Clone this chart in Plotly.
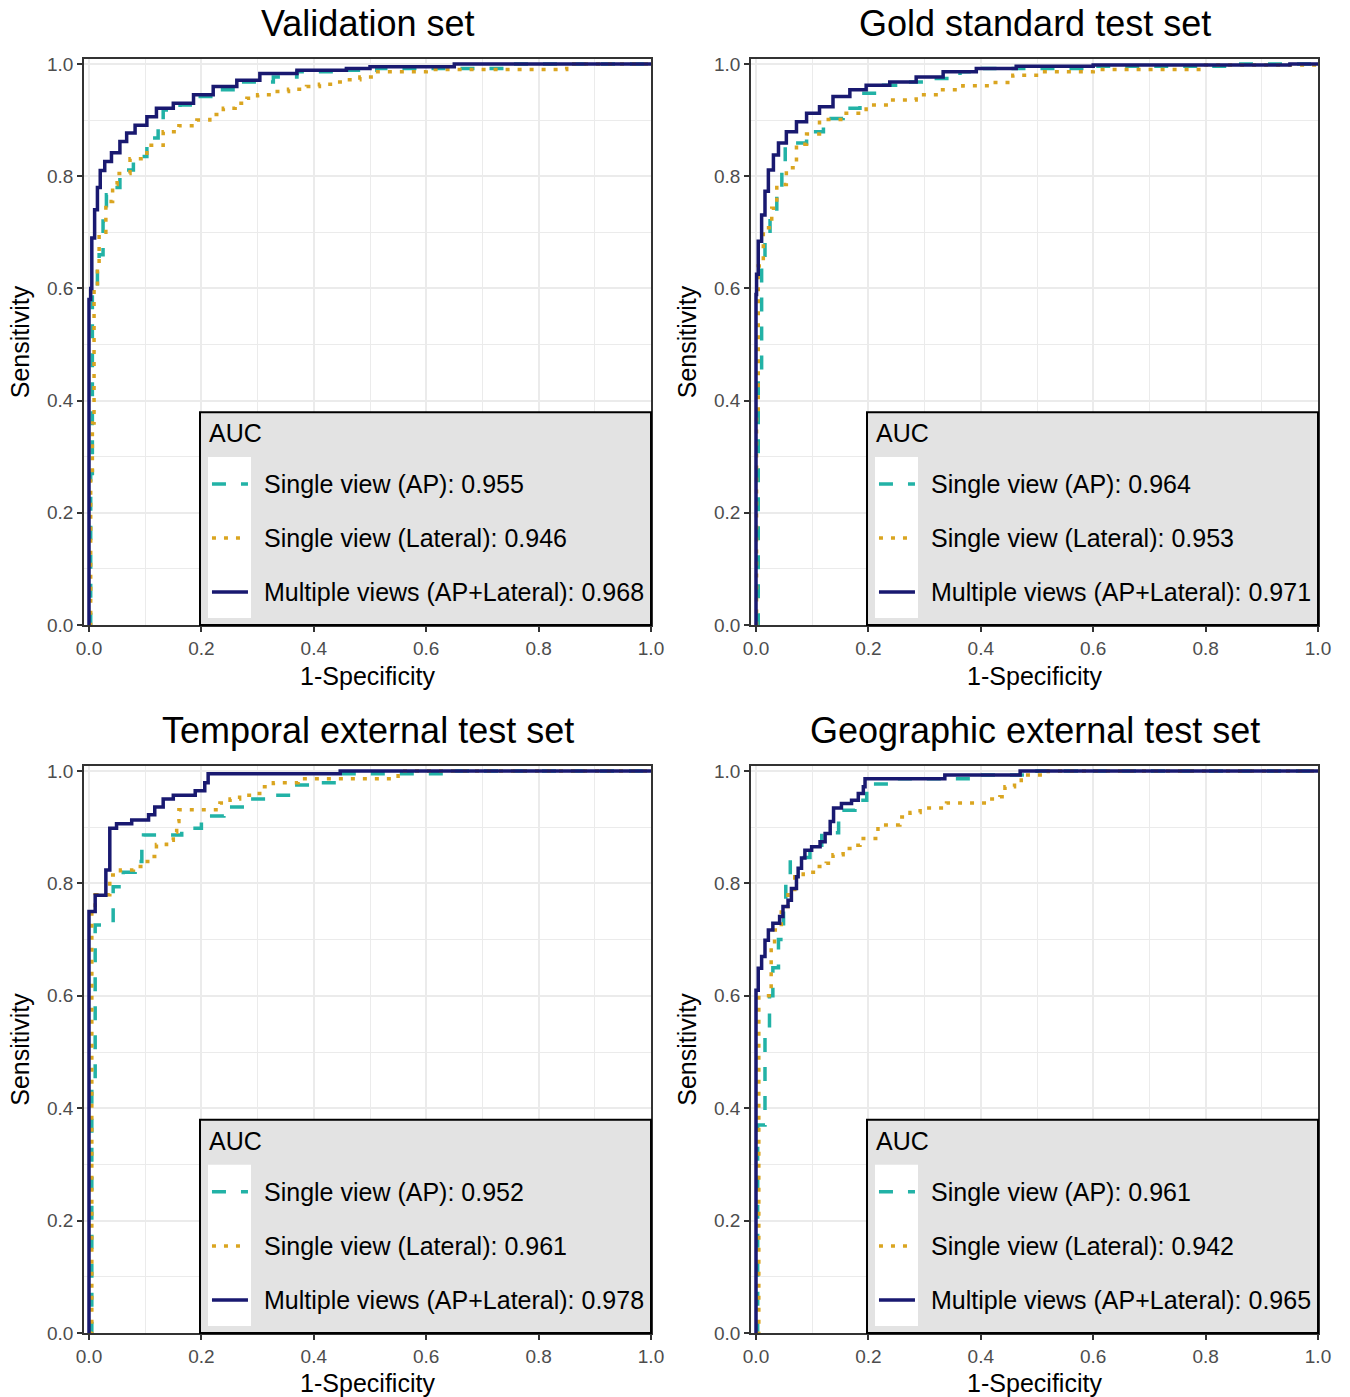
import plotly.graph_objects as go

# ---- ROC curve data (1-specificity, sensitivity) per test set ----
SERIES_NAMES = ["Single view (AP)", "Single view (Lateral)", "Multiple views (AP+Lateral)"]
PANEL_TITLES = ["Validation set", "Gold standard test set",
                "Temporal external test set", "Geographic external test set"]

VAL_AUC = [0.955, 0.946, 0.968]
GOLD_AUC = [0.964, 0.953, 0.971]
TEMP_AUC = [0.952, 0.961, 0.978]
GEO_AUC = [0.961, 0.942, 0.965]

VAL_AP_FPR = [0, 0.003, 0.006, 0.015, 0.018, 0.025, 0.031, 0.04, 0.055, 0.079, 0.103, 0.123, 0.132,
              0.162, 0.191, 0.227, 0.269, 0.328, 0.37, 0.458, 0.512, 0.75, 1.0]
VAL_AP_TPR = [0, 0.27, 0.60, 0.63, 0.66, 0.72, 0.767, 0.78, 0.811, 0.835, 0.868, 0.891, 0.918,
              0.927, 0.942, 0.954, 0.968, 0.977, 0.986, 0.989, 0.992, 1.0, 1.0]
VAL_LAT_FPR = [0, 0.003, 0.006, 0.009, 0.015, 0.018, 0.03, 0.042, 0.05, 0.073, 0.103, 0.132, 0.16,
               0.192, 0.215, 0.239, 0.26, 0.281, 0.30, 0.328, 0.355, 0.387, 0.41, 0.435, 0.46,
               0.482, 0.51, 0.6, 0.85, 1.0]
VAL_LAT_TPR = [0, 0.26, 0.36, 0.60, 0.637, 0.70, 0.755, 0.785, 0.805, 0.831, 0.855, 0.879, 0.89,
               0.90, 0.91, 0.921, 0.93, 0.939, 0.945, 0.951, 0.955, 0.96, 0.964, 0.968, 0.972,
               0.977, 0.986, 0.99, 1.0, 1.0]
VAL_MULTI_FPR = [0, 0, 0.003, 0.005, 0.01, 0.015, 0.02, 0.028, 0.04, 0.055, 0.067, 0.082, 0.103, 0.12,
                 0.15, 0.186, 0.221, 0.263, 0.304, 0.37, 0.458, 0.5, 0.65, 1.0]
VAL_MULTI_TPR = [0, 0.58, 0.60, 0.69, 0.74, 0.78, 0.81, 0.826, 0.842, 0.862, 0.877, 0.891, 0.906, 0.921,
                 0.93, 0.945, 0.96, 0.971, 0.983, 0.989, 0.992, 0.995, 1.0, 1.0]

GOLD_AP_FPR = [0, 0.004, 0.010, 0.016, 0.025, 0.037, 0.046, 0.052, 0.09, 0.12, 0.155, 0.185, 0.227,
               0.268, 0.315, 0.363, 0.404, 0.6, 0.85, 1.0]
GOLD_AP_TPR = [0, 0.45, 0.636, 0.696, 0.725, 0.773, 0.82, 0.859, 0.879, 0.903, 0.921, 0.948, 0.962,
               0.968, 0.974, 0.986, 0.992, 0.996, 1.0, 1.0]
GOLD_LAT_FPR = [0, 0.001, 0.004, 0.013, 0.028, 0.037, 0.054, 0.072, 0.09, 0.113, 0.155, 0.196, 0.238,
                0.285, 0.327, 0.368, 0.416, 0.457, 0.505, 0.6, 0.8, 1.0]
GOLD_LAT_TPR = [0, 0.37, 0.64, 0.708, 0.743, 0.785, 0.815, 0.857, 0.875, 0.901, 0.912, 0.927, 0.936,
                0.945, 0.954, 0.961, 0.967, 0.98, 0.986, 0.99, 0.998, 1.0]
GOLD_MULTI_FPR = [0, 0, 0.001, 0.004, 0.01, 0.016, 0.022, 0.031, 0.04, 0.054, 0.072, 0.09, 0.113, 0.137,
                  0.167, 0.196, 0.238, 0.285, 0.333, 0.392, 0.463, 0.6, 0.95, 1.0]
GOLD_MULTI_TPR = [0, 0.589, 0.625, 0.684, 0.731, 0.773, 0.811, 0.838, 0.859, 0.879, 0.897, 0.912, 0.924,
                  0.942, 0.954, 0.962, 0.968, 0.977, 0.986, 0.992, 0.996, 0.998, 1.0, 1.0]

TEMP_AP_FPR = [0, 0.005, 0.011, 0.043, 0.061, 0.082, 0.094, 0.097, 0.165, 0.2, 0.24, 0.28, 0.322,
               0.36, 0.4, 0.45, 0.63, 1.0]
TEMP_AP_TPR = [0, 0.44, 0.726, 0.794, 0.82, 0.839, 0.877, 0.886, 0.898, 0.92, 0.936, 0.95, 0.957,
               0.975, 0.979, 0.995, 1.0, 1.0]
TEMP_LAT_FPR = [0, 0.005, 0.011, 0.037, 0.056, 0.079, 0.096, 0.112, 0.12, 0.138, 0.15, 0.156, 0.16,
                0.233, 0.251, 0.268, 0.292, 0.307, 0.328, 0.372, 0.55, 1.0]
TEMP_LAT_TPR = [0, 0.75, 0.78, 0.815, 0.824, 0.83, 0.839, 0.848, 0.869, 0.877, 0.891, 0.91, 0.931,
                0.943, 0.95, 0.957, 0.96, 0.972, 0.979, 0.986, 1.0, 1.0]
TEMP_MULTI_FPR = [0, 0, 0.011, 0.030, 0.037, 0.049, 0.076, 0.106, 0.117, 0.132, 0.15, 0.189, 0.206,
                  0.212, 0.447, 1.0]
TEMP_MULTI_TPR = [0, 0.75, 0.779, 0.824, 0.898, 0.906, 0.913, 0.922, 0.936, 0.95, 0.957, 0.965, 0.979,
                  0.995, 1.0, 1.0]

GEO_AP_FPR = [0, 0.003, 0.016, 0.024, 0.03, 0.04, 0.049, 0.053, 0.061, 0.096, 0.117, 0.147, 0.176,
              0.197, 0.25, 0.4, 0.5, 1.0]
GEO_AP_TPR = [0, 0.37, 0.54, 0.60, 0.65, 0.70, 0.76, 0.81, 0.846, 0.868, 0.89, 0.93, 0.948,
              0.977, 0.986, 0.993, 1.0, 1.0]
GEO_LAT_FPR = [0, 0.005, 0.027, 0.033, 0.045, 0.057, 0.069, 0.084, 0.107, 0.125, 0.137, 0.155, 0.167,
               0.185, 0.217, 0.256, 0.274, 0.292, 0.339, 0.41, 0.434, 0.443, 0.46, 0.472, 0.52, 1.0]
GEO_LAT_TPR = [0, 0.60, 0.696, 0.717, 0.759, 0.789, 0.812, 0.82, 0.83, 0.836, 0.851, 0.862, 0.868,
               0.88, 0.904, 0.918, 0.926, 0.934, 0.943, 0.95, 0.954, 0.972, 0.979, 0.993, 1.0, 1.0]
GEO_MULTI_FPR = [0, 0, 0.004, 0.01, 0.016, 0.022, 0.03, 0.042, 0.048, 0.057, 0.063, 0.072, 0.075,
                 0.081, 0.087, 0.099, 0.114, 0.123, 0.132, 0.138, 0.152, 0.17, 0.182, 0.191, 0.194,
                 0.336, 0.47, 1.0]
GEO_MULTI_TPR = [0, 0.61, 0.649, 0.67, 0.699, 0.717, 0.729, 0.741, 0.759, 0.77, 0.791, 0.812, 0.827,
                 0.845, 0.859, 0.865, 0.874, 0.889, 0.91, 0.934, 0.942, 0.948, 0.96, 0.972, 0.986,
                 0.993, 1.0, 1.0]

TICKS = [0.0, 0.2, 0.4, 0.6, 0.8, 1.0]
TICK_LABELS = ["0.0", "0.2", "0.4", "0.6", "0.8", "1.0"]
MINOR_TICKS = [0.1, 0.3, 0.5, 0.7, 0.9]

# ---- styling ----
COLORS = ["#22b2a6", "#daa520", "#191970"]
DASHES = ["14px,15px", "4px,8px", "solid"]
LINE_W = 3.5
FONT = "Liberation Sans, Arial, Helvetica, sans-serif"
LEGEND_BG = "#e3e3e3"

panels = [
    (PANEL_TITLES[0], [(VAL_AP_FPR, VAL_AP_TPR), (VAL_LAT_FPR, VAL_LAT_TPR), (VAL_MULTI_FPR, VAL_MULTI_TPR)], VAL_AUC),
    (PANEL_TITLES[1], [(GOLD_AP_FPR, GOLD_AP_TPR), (GOLD_LAT_FPR, GOLD_LAT_TPR), (GOLD_MULTI_FPR, GOLD_MULTI_TPR)], GOLD_AUC),
    (PANEL_TITLES[2], [(TEMP_AP_FPR, TEMP_AP_TPR), (TEMP_LAT_FPR, TEMP_LAT_TPR), (TEMP_MULTI_FPR, TEMP_MULTI_TPR)], TEMP_AUC),
    (PANEL_TITLES[3], [(GEO_AP_FPR, GEO_AP_TPR), (GEO_LAT_FPR, GEO_LAT_TPR), (GEO_MULTI_FPR, GEO_MULTI_TPR)], GEO_AUC),
]

W, H = 1350, 1397
X_DOMAINS = [[84 / W, 651 / W], [751 / W, 1318 / W]]
Y_DOMAINS = [[1 - 625 / H, 1 - 59 / H], [1 - 1333 / H, 1 - 766 / H]]

fig = go.Figure()
layout = dict(
    width=W, height=H,
    margin=dict(l=0, r=0, t=0, b=0),
    paper_bgcolor="white", plot_bgcolor="white",
    font=dict(family=FONT, color="black"),
    showlegend=False,
    shapes=[], annotations=[],
)


def axis_common():
    return dict(
        tickvals=TICKS, ticktext=TICK_LABELS,
        ticks="outside", ticklen=5, tickwidth=1.5, tickcolor="#333333",
        tickfont=dict(size=19, color="#4d4d4d", family=FONT),
        showgrid=True, gridcolor="#ebebeb", gridwidth=1.8,
        minor=dict(tickvals=MINOR_TICKS, showgrid=True, gridcolor="#ebebeb", gridwidth=0.9, ticks=""),
        showline=True, linecolor="#333333", linewidth=1.5, mirror=True,
        zeroline=False, fixedrange=True, automargin=False,
    )


for i, (title, curves, aucs) in enumerate(panels):
    row, col = divmod(i, 2)
    suffix = "" if i == 0 else str(i + 1)
    xa, ya = "x" + suffix, "y" + suffix

    for (fpr, tpr), color, dash, name in zip(curves, COLORS, DASHES, SERIES_NAMES):
        fig.add_trace(go.Scatter(
            x=fpr, y=tpr, mode="lines", name=name,
            line=dict(color=color, width=LINE_W, dash=dash, shape="hv"),
            xaxis=xa, yaxis=ya, hoverinfo="skip",
        ))

    xaxis = axis_common()
    xaxis.update(domain=X_DOMAINS[col], range=[-0.0089, 1.0], anchor=ya,
                 title=dict(text="1-Specificity", font=dict(size=25, color="black"), standoff=10))
    yaxis = axis_common()
    yaxis.update(domain=Y_DOMAINS[row], range=[0, 1.0089], anchor=xa,
                 title=dict(text="Sensitivity", font=dict(size=25, color="black"), standoff=10))
    layout["xaxis" + suffix] = xaxis
    layout["yaxis" + suffix] = yaxis

    xr, yr = xa + " domain", ya + " domain"

    # panel title
    layout["annotations"].append(dict(
        text=title, x=0.5, y=1, xref=xr, yref=yr, xanchor="center", yanchor="bottom",
        yshift=13, showarrow=False, font=dict(size=36, color="black", family=FONT)))

    # legend box in the lower-right corner
    layout["shapes"].append(dict(
        type="rect", xref=xr, yref=yr, x0=0.2046, x1=1.0, y0=0.0, y1=0.376,
        fillcolor=LEGEND_BG, line=dict(color="black", width=2), layer="above"))
    layout["shapes"].append(dict(
        type="rect", xref=xr, yref=yr, x0=0.2187, x1=0.2945, y0=0.0124, y1=0.2968,
        fillcolor="white", line=dict(width=0), layer="above"))
    layout["annotations"].append(dict(
        text="AUC", x=0.2170, y=0.339, xref=xr, yref=yr, xanchor="left", yanchor="middle",
        showarrow=False, font=dict(size=25, color="black", family=FONT)))
    for k, (name, color, dash, auc) in enumerate(zip(SERIES_NAMES, COLORS, DASHES, aucs)):
        yk = 0.249 - k * 0.0954
        layout["shapes"].append(dict(
            type="line", xref=xr, yref=yr, x0=0.2257, x1=0.2892, y0=yk, y1=yk,
            line=dict(color=color, width=LINE_W, dash=dash), layer="above"))
        layout["annotations"].append(dict(
            text=f"{name}: {auc:.3f}", x=0.3140, y=yk, xref=xr, yref=yr,
            xanchor="left", yanchor="middle", showarrow=False,
            font=dict(size=25, color="black", family=FONT)))

fig.update_layout(**layout)
fig.write_html("out.html")
